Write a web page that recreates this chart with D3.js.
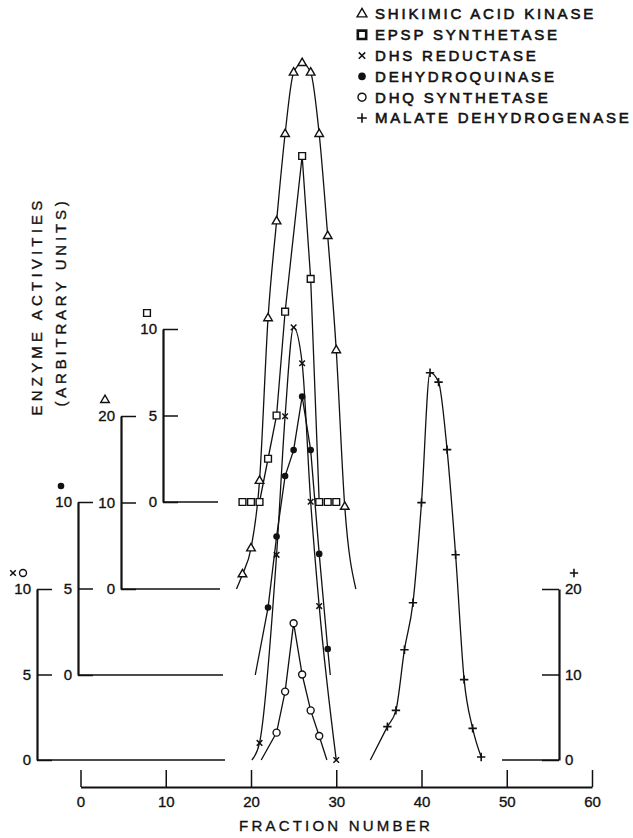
<!DOCTYPE html>
<html>
<head>
<meta charset="utf-8">
<script src="https://cdn.jsdelivr.net/npm/d3@7"></script>
<style>
body { margin: 0; background: #fff; }
svg text { font-family: "Liberation Sans", Arial, sans-serif; fill: #111; stroke: #111; stroke-width: 0.35px; }
</style>
</head>
<body>
<script>
// values (fraction number, activity in axis units)
const skFrac = [19, 20, 21, 22, 23, 24, 25, 26, 27, 28, 29, 30, 31];
const skVal = [1.7, 4.7, 12.5, 31.3, 42.5, 52.6, 59.7, 60.8, 59.7, 52.6, 40.8, 27.6, 9.5];
const skTail = [18.3, 32.3];

const epFrac = [19, 20, 21, 22, 23, 24, 26, 27, 28, 29, 30];
const epVal = [0, 0, 0, 2.5, 5.0, 11.0, 20.0, 12.9, 0, 0, 0];
const epCurveRange = [21, 28];

const dhsFrac = [21, 23, 24, 25, 26, 27, 28, 30];
const dhsVal = [1.0, 12.0, 20.1, 25.3, 23.2, 15.1, 9.0, 0];
const dhsTail = [20.1, null];

const dhFrac = [22, 23, 24, 25, 26, 27, 28, 29];
const dhVal = [3.9, 8.0, 11.5, 13.0, 16.1, 13.0, 7.0, 1.5];
const dhTail = [20.5, 29.3];

const dhqFrac = [23, 24, 25, 26, 27, 28];
const dhqVal = [1.6, 4.0, 8.0, 5.0, 2.9, 1.4];
const dhqTail = [21.2, 28.9];

const mdhFrac = [36, 37, 38, 39, 40, 41, 42, 43, 44, 45, 46, 47];
const mdhVal = [3.9, 5.8, 12.9, 18.4, 30.1, 45.3, 44.2, 36.3, 24.0, 9.4, 3.7, 0.35];
const mdhTail = [34, null];

const xTicks = [0, 10, 20, 30, 40, 50, 60];
const xoTicks = [0, 5, 10];
const dotTicks = [0, 5, 10];
const triTicks = [0, 10, 20];
const sqTicks = [0, 5, 10];
const plusTicks = [0, 10, 20];

const legendLabels = ["SHIKIMIC ACID KINASE", "EPSP SYNTHETASE", "DHS REDUCTASE",
  "DEHYDROQUINASE", "DHQ SYNTHETASE", "MALATE DEHYDROGENASE"];
const legendMarks = ["tri", "sq", "x", "dot", "circ", "plus"];

const svgWidth = 633, svgHeight = 838;

const svg = d3.select("body")
  .append("svg")
  .attr("width", svgWidth)
  .attr("height", svgHeight)
  .style("background-color", "white");

const xScale = d3.scaleLinear().domain([0, 60]).range([80.5, 592]);
const yXO = d3.scaleLinear().domain([0, 10]).range([760, 589]);
const yDot = d3.scaleLinear().domain([0, 10]).range([675, 502]);
const yTri = d3.scaleLinear().domain([0, 20]).range([589, 416]);
const ySq = d3.scaleLinear().domain([0, 10]).range([502, 329]);
const yPlus = d3.scaleLinear().domain([0, 20]).range([760, 589]);

// marker drawing
function addMarker(g, type, big) {
  const k = big ? 1.15 : 1;
  if (type === "tri") {
    g.append("path").attr("d", d3.symbol(d3.symbolTriangle, 32 * k * k)())
      .attr("fill", "white").attr("stroke", "#111").attr("stroke-width", 1.4);
  } else if (type === "sq") {
    g.append("path").attr("d", d3.symbol(d3.symbolSquare, big ? 70 : 46)())
      .attr("fill", "white").attr("stroke", "#111").attr("stroke-width", big ? 2.6 : 1.4);
  } else if (type === "circ") {
    g.append("circle").attr("r", 3.5 * k)
      .attr("fill", "white").attr("stroke", "#111").attr("stroke-width", 1.4);
  } else if (type === "dot") {
    g.append("circle").attr("r", 3.3 * k).attr("fill", "#111");
  } else if (type === "plus") {
    const a = 4.2 * k;
    g.append("path").attr("d", `M${-a},0H${a}M0,${-a}V${a}`)
      .attr("stroke", "#111").attr("stroke-width", 1.6);
  } else if (type === "x") {
    const a = 2.8 * k;
    g.append("path").attr("d", `M${-a},${-a}L${a},${a}M${a},${-a}L${-a},${a}`)
      .attr("stroke", "#111").attr("stroke-width", 1.5);
  }
}

function styleTicks(g) {
  g.select(".domain").attr("stroke", "#111").attr("stroke-width", 2.2);
  g.selectAll(".tick line").attr("stroke", "#111").attr("stroke-width", 1.5);
  g.selectAll(".tick text")
    .style("font-size", "15px")
    .style("font-family", "Liberation Sans, Arial, sans-serif")
    .attr("fill", "#111");
}

// offset left axes: ticks point right, labels on the left
function leftAxis(scale, ax, ticks, baseEnd, marks, markDx) {
  const g = svg.append("g")
    .attr("transform", `translate(${ax},0)`)
    .call(d3.axisLeft(scale).tickValues(ticks).tickSize(-15).tickSizeOuter(0).tickPadding(6));
  styleTicks(g);
  svg.append("line")
    .attr("x1", ax).attr("x2", baseEnd)
    .attr("y1", scale(0)).attr("y2", scale(0))
    .attr("stroke", "#111").attr("stroke-width", 1.5);
  const top = scale(ticks[ticks.length - 1]);
  marks.forEach((m, i) => {
    const mg = svg.append("g").attr("transform", `translate(${ax + markDx + i * 10},${top - 16})`);
    addMarker(mg, m, false);
  });
}

leftAxis(yXO, 37, xoTicks, 225, ["x", "circ"], -24);
leftAxis(yDot, 78, dotTicks, 223, ["dot"], -17);
leftAxis(yTri, 121, triTicks, 220, ["tri"], -16);
leftAxis(ySq, 163, sqTicks, 218, ["sq"], -16);

// right axis for malate dehydrogenase
const rAx = 559;
const rg = svg.append("g")
  .attr("transform", `translate(${rAx},0)`)
  .call(d3.axisRight(yPlus).tickValues(plusTicks).tickSize(-17).tickSizeOuter(0).tickPadding(6));
styleTicks(rg);
svg.append("line")
  .attr("x1", 502).attr("x2", rAx)
  .attr("y1", yPlus(0)).attr("y2", yPlus(0))
  .attr("stroke", "#111").attr("stroke-width", 1.5);
addMarker(svg.append("g").attr("transform", `translate(${rAx + 15},${yPlus(20) - 16})`), "plus", false);

// x axis
const xg = svg.append("g")
  .attr("transform", "translate(0,787)")
  .call(d3.axisBottom(xScale).tickValues(xTicks).tickSize(-17).tickSizeOuter(0).tickPadding(9));
styleTicks(xg);

svg.append("text")
  .attr("x", 336).attr("y", 826).attr("dy", "0.35em")
  .attr("text-anchor", "middle")
  .style("font-size", "15px").style("letter-spacing", "3.2px")
  .text("FRACTION NUMBER");

// y title, two rotated lines
svg.append("text")
  .attr("transform", "translate(37,306) rotate(-90)")
  .attr("dy", "0.35em").attr("text-anchor", "middle")
  .style("font-size", "15px").style("letter-spacing", "4.2px")
  .text("ENZYME ACTIVITIES");
svg.append("text")
  .attr("transform", "translate(61,302) rotate(-90)")
  .attr("dy", "0.35em").attr("text-anchor", "middle")
  .style("font-size", "15px").style("letter-spacing", "3.8px")
  .text("(ARBITRARY UNITS)");

// series
const series = [
  { frac: skFrac, val: skVal, y: yTri, mark: "tri", tail: skTail, curve: d3.curveMonotoneX },
  { frac: epFrac, val: epVal, y: ySq, mark: "sq", range: epCurveRange, curve: d3.curveLinear },
  { frac: dhsFrac, val: dhsVal, y: yXO, mark: "x", tail: dhsTail, curve: d3.curveMonotoneX },
  { frac: dhFrac, val: dhVal, y: yDot, mark: "dot", tail: dhTail, curve: d3.curveLinear },
  { frac: dhqFrac, val: dhqVal, y: yXO, mark: "circ", tail: dhqTail, curve: d3.curveLinear },
  { frac: mdhFrac, val: mdhVal, y: yPlus, mark: "plus", tail: mdhTail, curve: d3.curveMonotoneX }
];

series.forEach(s => {
  let pts = d3.zip(s.frac, s.val);
  if (s.range) pts = pts.filter(p => p[0] >= s.range[0] && p[0] <= s.range[1]);
  if (s.tail) {
    if (s.tail[0] != null) pts.unshift([s.tail[0], 0]);
    if (s.tail[1] != null) pts.push([s.tail[1], 0]);
  }
  const line = d3.line()
    .x(d => xScale(d[0]))
    .y(d => s.y(d[1]))
    .curve(s.curve);
  svg.append("path")
    .attr("d", line(pts))
    .attr("fill", "none")
    .attr("stroke", "#111")
    .attr("stroke-width", 1.3);
});

series.forEach(s => {
  d3.zip(s.frac, s.val).forEach(p => {
    const g = svg.append("g").attr("transform", `translate(${xScale(p[0])},${s.y(p[1])})`);
    addMarker(g, s.mark, false);
  });
});

// legend
legendLabels.forEach((lab, i) => {
  const ly = 14 + i * 20.8;
  addMarker(svg.append("g").attr("transform", `translate(362,${ly})`), legendMarks[i], true);
  svg.append("text")
    .attr("x", 375).attr("y", ly).attr("dy", "0.36em")
    .style("font-size", "15px").style("letter-spacing", "2.8px")
    .style("stroke-width", "0.6px")
    .text(lab);
});
</script>
</body>
</html>
